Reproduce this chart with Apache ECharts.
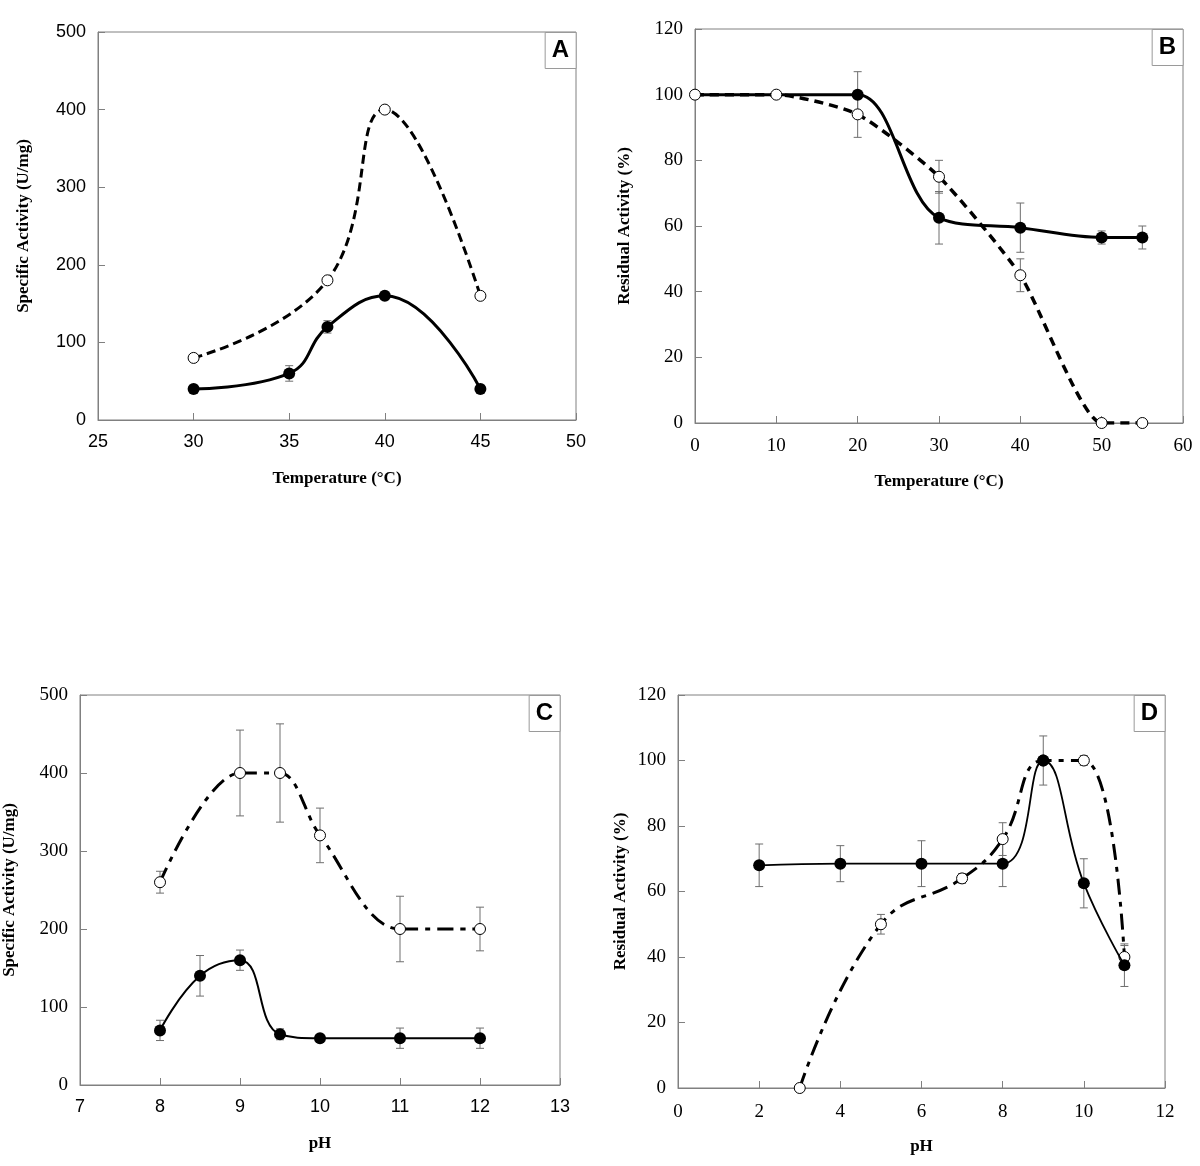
<!DOCTYPE html>
<html><head><meta charset="utf-8">
<script src="https://cdn.jsdelivr.net/npm/echarts@6/dist/echarts.min.js"></script>
<style>html,body{margin:0;padding:0;background:#fff}#c{width:1200px;height:1166px}</style>
</head><body><div id="c"></div>
<script>
// Panel A: specific activity vs temperature
const aTemp = [30, 35, 37, 40, 45];
const aFilled = [40, 60, 120, 160, 40];
const aFilledErr = [0, 10, 8, 0, 0];
const aOpenTemp = [30, 37, 40, 45];
const aOpen = [80, 180, 400, 160];
// Panel B: residual activity vs temperature
const bTemp = [0, 10, 20, 30, 40, 50, 55];
const bFilled = [100, 100, 100, 62.5, 59.5, 56.5, 56.5];
const bFilledErr = [0, 0, 7, 8, 7.5, 2, 3.5];
const bOpen = [100, 100, 94, 75, 45, 0, 0];
const bOpenErr = [0, 0, 7, 5, 5, 0, 0];
// Panel C: specific activity vs pH
const cPH = [8, 8.5, 9, 9.5, 10, 11, 12];
const cFilled = [70, 140, 160, 65, 60, 60, 60];
const cFilledErr = [13, 26, 13, 7, 0, 13, 13];
const cOpenPH = [8, 9, 9.5, 10, 11, 12];
const cOpen = [260, 400, 400, 320, 200, 200];
const cOpenErr = [14, 55, 63, 35, 42, 28];
// Panel D: residual activity vs pH
const dFilledPH = [2, 4, 6, 8, 9, 10, 11];
const dFilled = [68, 68.5, 68.5, 68.5, 100, 62.5, 37.5];
const dFilledErr = [6.5, 5.5, 7, 7, 7.5, 7.5, 6.5];
const dOpenPH = [3, 5, 7, 8, 9, 10, 11];
const dOpen = [0, 50, 64, 76, 100, 100, 40];
const dOpenErr = [0, 3, 1.5, 5, 0, 1.5, 3.5];

const SERIF = 'Liberation Serif';
const SANS = 'Liberation Sans';
const AX = '#808080';

function pairs(xs, ys) { return xs.map((x, i) => [x, ys[i]]); }
function triples(xs, ys, es) { return xs.map((x, i) => [x, ys[i], es[i]]); }

function errSeries(idx, xs, ys, es) {
  return {
    type: 'custom', xAxisIndex: idx, yAxisIndex: idx, z: 1, silent: true,
    data: triples(xs, ys, es),
    renderItem: function (params, api) {
      const x = api.value(0), y = api.value(1), e = api.value(2);
      if (!e) return null;
      const t = api.coord([x, y + e]), b = api.coord([x, y - e]);
      const w = 4;
      const st = { stroke: '#6e6e6e', lineWidth: 1 };
      return { type: 'group', children: [
        { type: 'line', shape: { x1: t[0], y1: t[1], x2: b[0], y2: b[1] }, style: st },
        { type: 'line', shape: { x1: t[0] - w, y1: t[1], x2: t[0] + w, y2: t[1] }, style: st },
        { type: 'line', shape: { x1: b[0] - w, y1: b[1], x2: b[0] + w, y2: b[1] }, style: st }
      ]};
    }
  };
}
function filledSeries(idx, xs, ys, width, smooth, symFn) {
  return {
    type: 'line', xAxisIndex: idx, yAxisIndex: idx, z: 3, smooth: smooth,
    data: pairs(xs, ys), symbol: symFn || 'circle', symbolSize: 12, showAllSymbol: true,
    itemStyle: { color: '#000' }, lineStyle: { color: '#000', width: width, type: 'solid' }
  };
}
function openSeries(idx, xs, ys, width, dash, smooth) {
  return {
    type: 'line', xAxisIndex: idx, yAxisIndex: idx, z: 2, smooth: smooth,
    data: pairs(xs, ys), symbol: 'circle', symbolSize: 11, showAllSymbol: true,
    itemStyle: { color: '#fff', borderColor: '#000', borderWidth: 1 },
    lineStyle: { color: '#000', width: width, type: dash, cap: 'butt' }
  };
}
function xAx(idx, min, max, interval, name, font, size, gap, margin) {
  return {
    gridIndex: idx, type: 'value', min: min, max: max, interval: interval,
    name: name, nameLocation: 'middle', nameGap: gap,
    nameTextStyle: { fontFamily: SERIF, fontWeight: 'bold', fontSize: 17, color: '#000' },
    axisLine: { onZero: false, lineStyle: { color: AX, width: 1 } },
    axisTick: { inside: true, length: 7, lineStyle: { color: AX } },
    axisLabel: { fontFamily: font, fontSize: size, color: '#000', margin: margin },
    splitLine: { show: false }
  };
}
function yAx(idx, min, max, interval, name, font, size, gap) {
  return {
    gridIndex: idx, type: 'value', min: min, max: max, interval: interval,
    name: name, nameLocation: 'middle', nameGap: gap,
    nameTextStyle: { fontFamily: SERIF, fontWeight: 'bold', fontSize: 17, color: '#000' },
    axisLine: { onZero: false, lineStyle: { color: AX, width: 1 } },
    axisTick: { inside: true, length: 7, lineStyle: { color: AX } },
    axisLabel: { fontFamily: font, fontSize: size, color: '#000', margin: 12 },
    splitLine: { show: false }
  };
}
function tag(text, right, top) {
  return {
    text: text, right: right, top: top,
    borderColor: '#9a9a9a', borderWidth: 1, backgroundColor: '#fff',
    padding: [6, 7, 6, 7],
    textStyle: { fontFamily: SANS, fontWeight: 'bold', fontSize: 24, lineHeight: 25, color: '#000' }
  };
}

const chart = echarts.init(document.getElementById('c'));
const gridBase = { show: true, borderColor: AX, borderWidth: 1, backgroundColor: 'transparent', containLabel: false };
chart.setOption({
  animation: false,
  backgroundColor: '#fff',
  title: [tag('A', 624, 32), tag('B', 17, 29), tag('C', 640, 695), tag('D', 35, 695)],
  grid: [
    Object.assign({ left: 98, top: 32, width: 478, height: 388 }, gridBase),
    Object.assign({ left: 695, top: 29, width: 488, height: 394 }, gridBase),
    Object.assign({ left: 78, top: 695, width: 482, height: 390 }, gridBase),
    Object.assign({ left: 678, top: 695, width: 487, height: 393 }, gridBase)
  ],
  xAxis: [
    xAx(0, 25, 50, 5, 'Temperature (°C)', SANS, 18, 50, 13),
    xAx(1, 0, 60, 10, 'Temperature (°C)', SERIF, 19, 50, 14),
    xAx(2, 7, 13, 1, 'pH', SANS, 18, 50, 13),
    xAx(3, 0, 12, 2, 'pH', SERIF, 19, 50, 15)
  ],
  yAxis: [
    yAx(0, 0, 500, 100, 'Specific Activity (U/mg)', SANS, 18, 66),
    yAx(1, 0, 120, 20, 'Residual Activity (%)', SERIF, 19, 62),
    yAx(2, 0, 500, 100, 'Specific Activity (U/mg)', SERIF, 19, 62),
    yAx(3, 0, 120, 20, 'Residual Activity (%)', SERIF, 19, 49)
  ],
  series: [
    errSeries(0, aTemp, aFilled, aFilledErr),
    openSeries(0, aOpenTemp, aOpen, 3, [9, 5], 0.45),
    filledSeries(0, aTemp, aFilled, 3, 0.45),

    errSeries(1, bTemp, bFilled, bFilledErr),
    errSeries(1, bTemp, bOpen, bOpenErr),
    filledSeries(1, bTemp, bFilled, 3, 0.35, function (v) { return v[0] < 20 ? 'none' : 'circle'; }),
    Object.assign(openSeries(1, bTemp, bOpen, 3.5, [9, 6], 0.2), { z: 4 }),

    errSeries(2, cPH, cFilled, cFilledErr),
    errSeries(2, cOpenPH, cOpen, cOpenErr),
    openSeries(2, cOpenPH, cOpen, 3, [16, 7, 5, 7], 0.35),
    filledSeries(2, cPH, cFilled, 2, 0.45),

    errSeries(3, dFilledPH, dFilled, dFilledErr),
    errSeries(3, dOpenPH, dOpen, dOpenErr),
    openSeries(3, dOpenPH, dOpen, 3, [16, 7, 5, 7], 0.45),
    filledSeries(3, dFilledPH, dFilled, 1.8, 0.45)
  ]
});
</script>
</body></html>
